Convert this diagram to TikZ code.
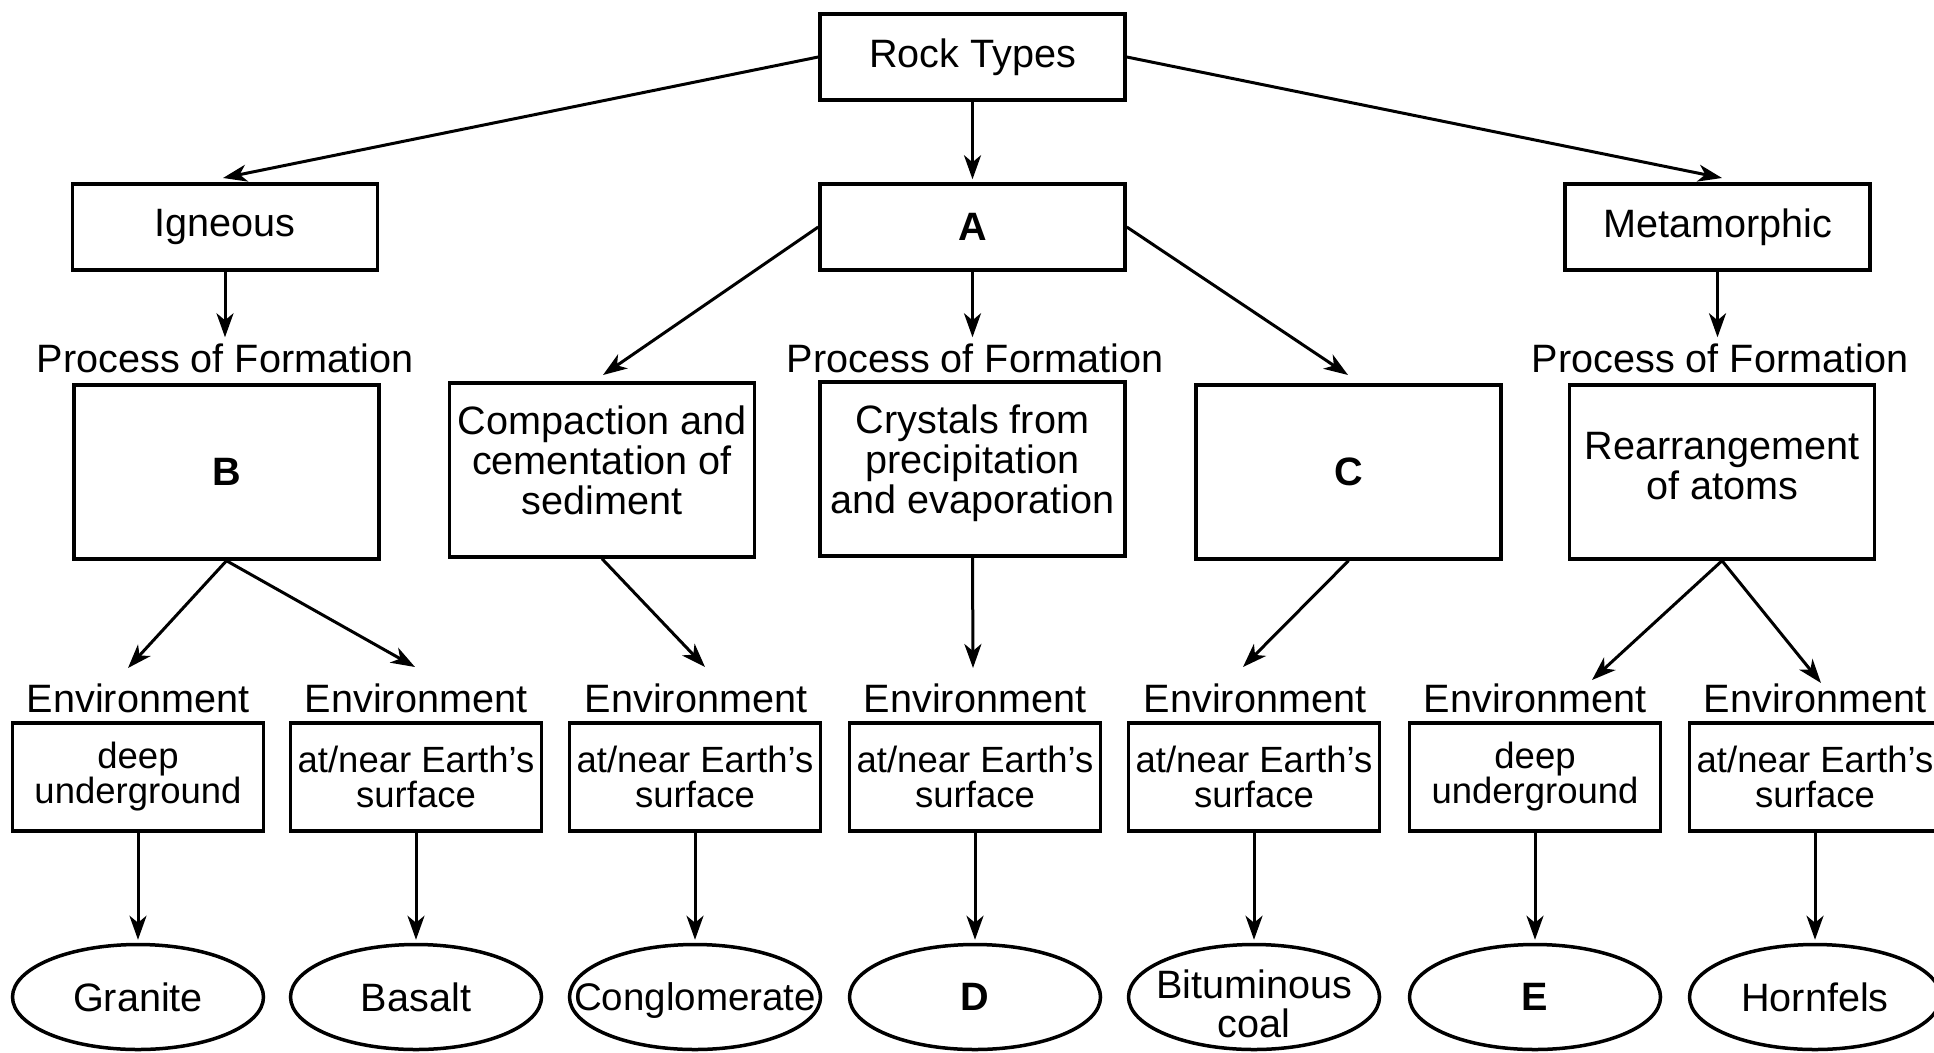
\documentclass[tikz,border=0pt]{standalone}
\usepackage{fontspec}
\setmainfont{Liberation Sans}
\usetikzlibrary{arrows.meta,shapes.geometric,calc}
\begin{document}
\begin{tikzpicture}[x=1pt,y=-1pt,
  mainfont/.style={font=\fontsize{39.6}{40}\selectfont},
  box/.style={draw,line width=3.5pt,inner sep=0pt,align=center,mainfont},
  topbox/.style={box,minimum width=305,minimum height=86},
  procbox/.style={box,minimum width=305,minimum height=174},
  envbox/.style={draw,line width=3.5pt,inner sep=0pt,align=center,minimum width=251,minimum height=108,font=\fontsize{36.5}{35}\selectfont},
  ell/.style={draw,ellipse,line width=3.5pt,inner sep=0pt,minimum width=251,minimum height=105},
  elltext/.style={inner sep=0pt,align=center,font=\fontsize{39.6}{39}\selectfont},
  lbl/.style={inner sep=0pt,mainfont},
  bold/.style={font=\fontsize{39.6}{40}\selectfont\bfseries},
  arr/.style={-{Stealth[length=24pt,width=17pt,inset=7pt]},line width=3pt}
]
\useasboundingbox[fill=white] (0,0) rectangle (1934,1052);

% top level
\node[topbox] (rt) at (972.5,57) {Rock Types};
\node[topbox] (ign) at (225,227) {Igneous};
\node[topbox,bold] (a) at (972.5,227) {A};
\node[topbox] (met) at (1717.5,227) {Metamorphic};

% process labels
\node[lbl] (p1) at (225,358) {Process of Formation};
\node[lbl] (p2) at (975,358) {Process of Formation};
\node[lbl] (p3) at (1720,358) {Process of Formation};

% process boxes
\node[procbox,bold] (b) at (226.5,472) {B};
\node[procbox,text depth=19pt] (comp) at (602,470) {Compaction and\\cementation of\\sediment};
\node[procbox,text depth=19pt] (cry) at (972.5,469) {Crystals from\\precipitation\\and evaporation};
\node[procbox,bold] (c) at (1348.5,472) {C};
\node[procbox,text depth=12pt] (rea) at (1722,472) {Rearrangement\\of atoms};

% environment labels, boxes and ellipses
\node[lbl] (l1) at (138,698) {Environment};
\node[lbl] (l2) at (416,698) {Environment};
\node[lbl] (l3) at (696,698) {Environment};
\node[lbl] (l4) at (975,698) {Environment};
\node[lbl] (l5) at (1255,698) {Environment};
\node[lbl] (l6) at (1535,698) {Environment};
\node[lbl] (l7) at (1815,698) {Environment};

\node[envbox] (e1) at (138,777) {deep\\underground};
\node[envbox] (e2) at (416,777) {at/near Earth’s\\surface};
\node[envbox] (e3) at (695,777) {at/near Earth’s\\surface};
\node[envbox] (e4) at (975,777) {at/near Earth’s\\surface};
\node[envbox] (e5) at (1254,777) {at/near Earth’s\\surface};
\node[envbox] (e6) at (1535,777) {deep\\underground};
\node[envbox] (e7) at (1815,777) {at/near Earth’s\\surface};

\node[ell] (r1) at (138,997) {};
\node[ell] (r2) at (416,997) {};
\node[ell] (r3) at (695,997) {};
\node[ell] (r4) at (975,997) {};
\node[ell] (r5) at (1254,997) {};
\node[ell] (r6) at (1535,997) {};
\node[ell] (r7) at (1815,997) {};
\node[elltext] (r1t) at (r1) {Granite};
\node[elltext] (r2t) at (r2) {Basalt};
\node[elltext,font=\fontsize{38.5}{39}\selectfont,text depth=0pt] (r3t) at (r3) {Conglomerate};
\node[elltext,bold] (r4t) at (r4) {D};
\node[elltext] (r5t) at (1254,1004) {Bituminous\\coal};
\node[elltext,bold] (r6t) at (r6) {E};
\node[elltext] (r7t) at (r7) {Hornfels};

% arrow tip coordinates
\coordinate (tIgn) at (223,178);
\coordinate (tMet) at (1722,178);
\coordinate (tA1) at (603,375);
\coordinate (tA2) at (1348,375);
\coordinate (tB1) at (128,668);
\coordinate (tB2) at (415,667);
\coordinate (tComp) at (705,667);
\coordinate (tCry) at (973,668);
\coordinate (tC) at (1243,667);
\coordinate (tR1) at (1592,680);
\coordinate (tR2) at (1821,683);

% connectors
\draw[arr] (rt.west) -- (tIgn);
\draw[arr] (rt.east) -- (tMet);
\draw[arr,shorten >=3pt] (rt.south) -- (a.north);
\draw[arr,shorten >=6pt] (ign.south) -- (ign.south |- p1.north);
\draw[arr,shorten >=6pt] (a.south) -- (a.south |- p2.north);
\draw[arr,shorten >=6pt] (met.south) -- (met.south |- p3.north);
\draw[arr] (a.west) -- (tA1);
\draw[arr] (a.east) -- (tA2);

\draw[arr] (b.south) -- (tB1);
\draw[arr] (b.south) -- (tB2);
\draw[arr] (comp.south) -- (tComp);
\draw[arr] (cry.south) -- (tCry);
\draw[arr] (c.south) -- (tC);
\draw[arr] (rea.south) -- (tR1);
\draw[arr] (rea.south) -- (tR2);

\foreach \i in {1,...,7}{
  \draw[arr,shorten >=3pt] (e\i.south) -- (r\i.north);
}
\end{tikzpicture}
\end{document}
